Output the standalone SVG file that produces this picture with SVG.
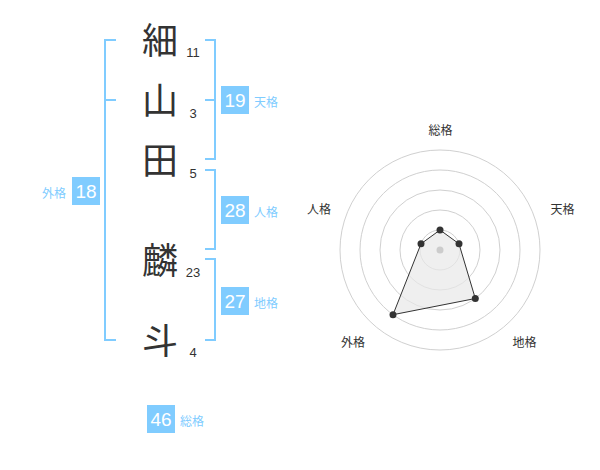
<svg xmlns="http://www.w3.org/2000/svg" width="600" height="470" viewBox="0 0 600 470">
<style>
.kanji{font-family:"Noto Sans CJK JP","Noto Sans CJK SC",sans-serif;font-size:36px;fill:#333;text-anchor:middle}
.stroke{font-family:"Liberation Sans",Arial,sans-serif;font-size:13px;fill:#333;text-anchor:middle}
.box{fill:#80ccff}
.boxnum{font-family:"Liberation Sans",Arial,sans-serif;font-size:19px;fill:#fff;text-anchor:middle}
.lbl{font-family:"Noto Sans CJK JP","Noto Sans CJK SC",sans-serif;font-size:12px;fill:#80ccff}
.br{fill:none;stroke:#80ccff;stroke-width:2}
.ring{fill:none;stroke:#d0d0d0;stroke-width:1}
.rlbl{font-family:"Noto Sans CJK JP","Noto Sans CJK SC",sans-serif;font-size:12px;fill:#333;text-anchor:middle}
.dot{fill:#333}
</style>
<rect width="600" height="470" fill="#fff"/>
<g id="connectors">
<path class="br" d="M205,40 H215 V159 H205 M205,100 H215"/>
<path class="br" d="M205,170 H215 V249 H205"/>
<path class="br" d="M205,259 H215 V340 H205"/>
<path class="br" d="M116,40 H105 V340 H116 M105,100 H116"/>
</g>
<g id="name">
<g id="c1"><text class="kanji" x="160" y="54">細</text><text class="stroke" x="193" y="57">11</text></g>
<g id="c2"><text class="kanji" x="160" y="114">山</text><text class="stroke" x="193" y="118">3</text></g>
<g id="c3"><text class="kanji" x="160" y="174">田</text><text class="stroke" x="193" y="178">5</text></g>
<g id="c4"><text class="kanji" x="160" y="274">麟</text><text class="stroke" x="193" y="277">23</text></g>
<g id="c5"><text class="kanji" x="160" y="354">斗</text><text class="stroke" x="193" y="357">4</text></g>
</g>
<g id="tenkaku"><rect class="box" x="221" y="86" width="28" height="28"/><text class="boxnum" x="235" y="107">19</text><text class="lbl" x="254" y="107">天格</text></g>
<g id="jinkaku"><rect class="box" x="221" y="196" width="28" height="28"/><text class="boxnum" x="235" y="217">28</text><text class="lbl" x="254" y="217">人格</text></g>
<g id="chikaku"><rect class="box" x="221" y="287" width="28" height="28"/><text class="boxnum" x="235" y="308">27</text><text class="lbl" x="254" y="308">地格</text></g>
<g id="gaikaku"><rect class="box" x="72" y="177" width="28" height="28"/><text class="boxnum" x="86" y="198">18</text><text class="lbl" x="66" y="198" text-anchor="end">外格</text></g>
<g id="soukaku"><rect class="box" x="147" y="405" width="28" height="28"/><text class="boxnum" x="161" y="426">46</text><text class="lbl" x="180" y="426">総格</text></g>
<g id="radar">
<circle class="ring" cx="440" cy="250" r="100"/>
<circle class="ring" cx="440" cy="250" r="80"/>
<circle class="ring" cx="440" cy="250" r="60"/>
<circle class="ring" cx="440" cy="250" r="40"/>
<circle class="ring" cx="440" cy="250" r="20"/>
<polygon points="440,230 459,243.8 475.3,298.5 393,314.7 421,243.8" fill="#e8e8e8" fill-opacity="0.7" stroke="#333" stroke-width="1"/>
<circle cx="440" cy="250" r="3.5" fill="#ccc"/>
<circle class="dot" cx="440" cy="230" r="3.5"/>
<circle class="dot" cx="459" cy="243.8" r="3.5"/>
<circle class="dot" cx="475.3" cy="298.5" r="3.5"/>
<circle class="dot" cx="393" cy="314.7" r="3.5"/>
<circle class="dot" cx="421" cy="243.8" r="3.5"/>
<text class="rlbl" x="440.5" y="135">総格</text>
<text class="rlbl" x="562.5" y="213.5">天格</text>
<text class="rlbl" x="319" y="213.5">人格</text>
<text class="rlbl" x="524.5" y="347">地格</text>
<text class="rlbl" x="353" y="347">外格</text>
</g>
</svg>
